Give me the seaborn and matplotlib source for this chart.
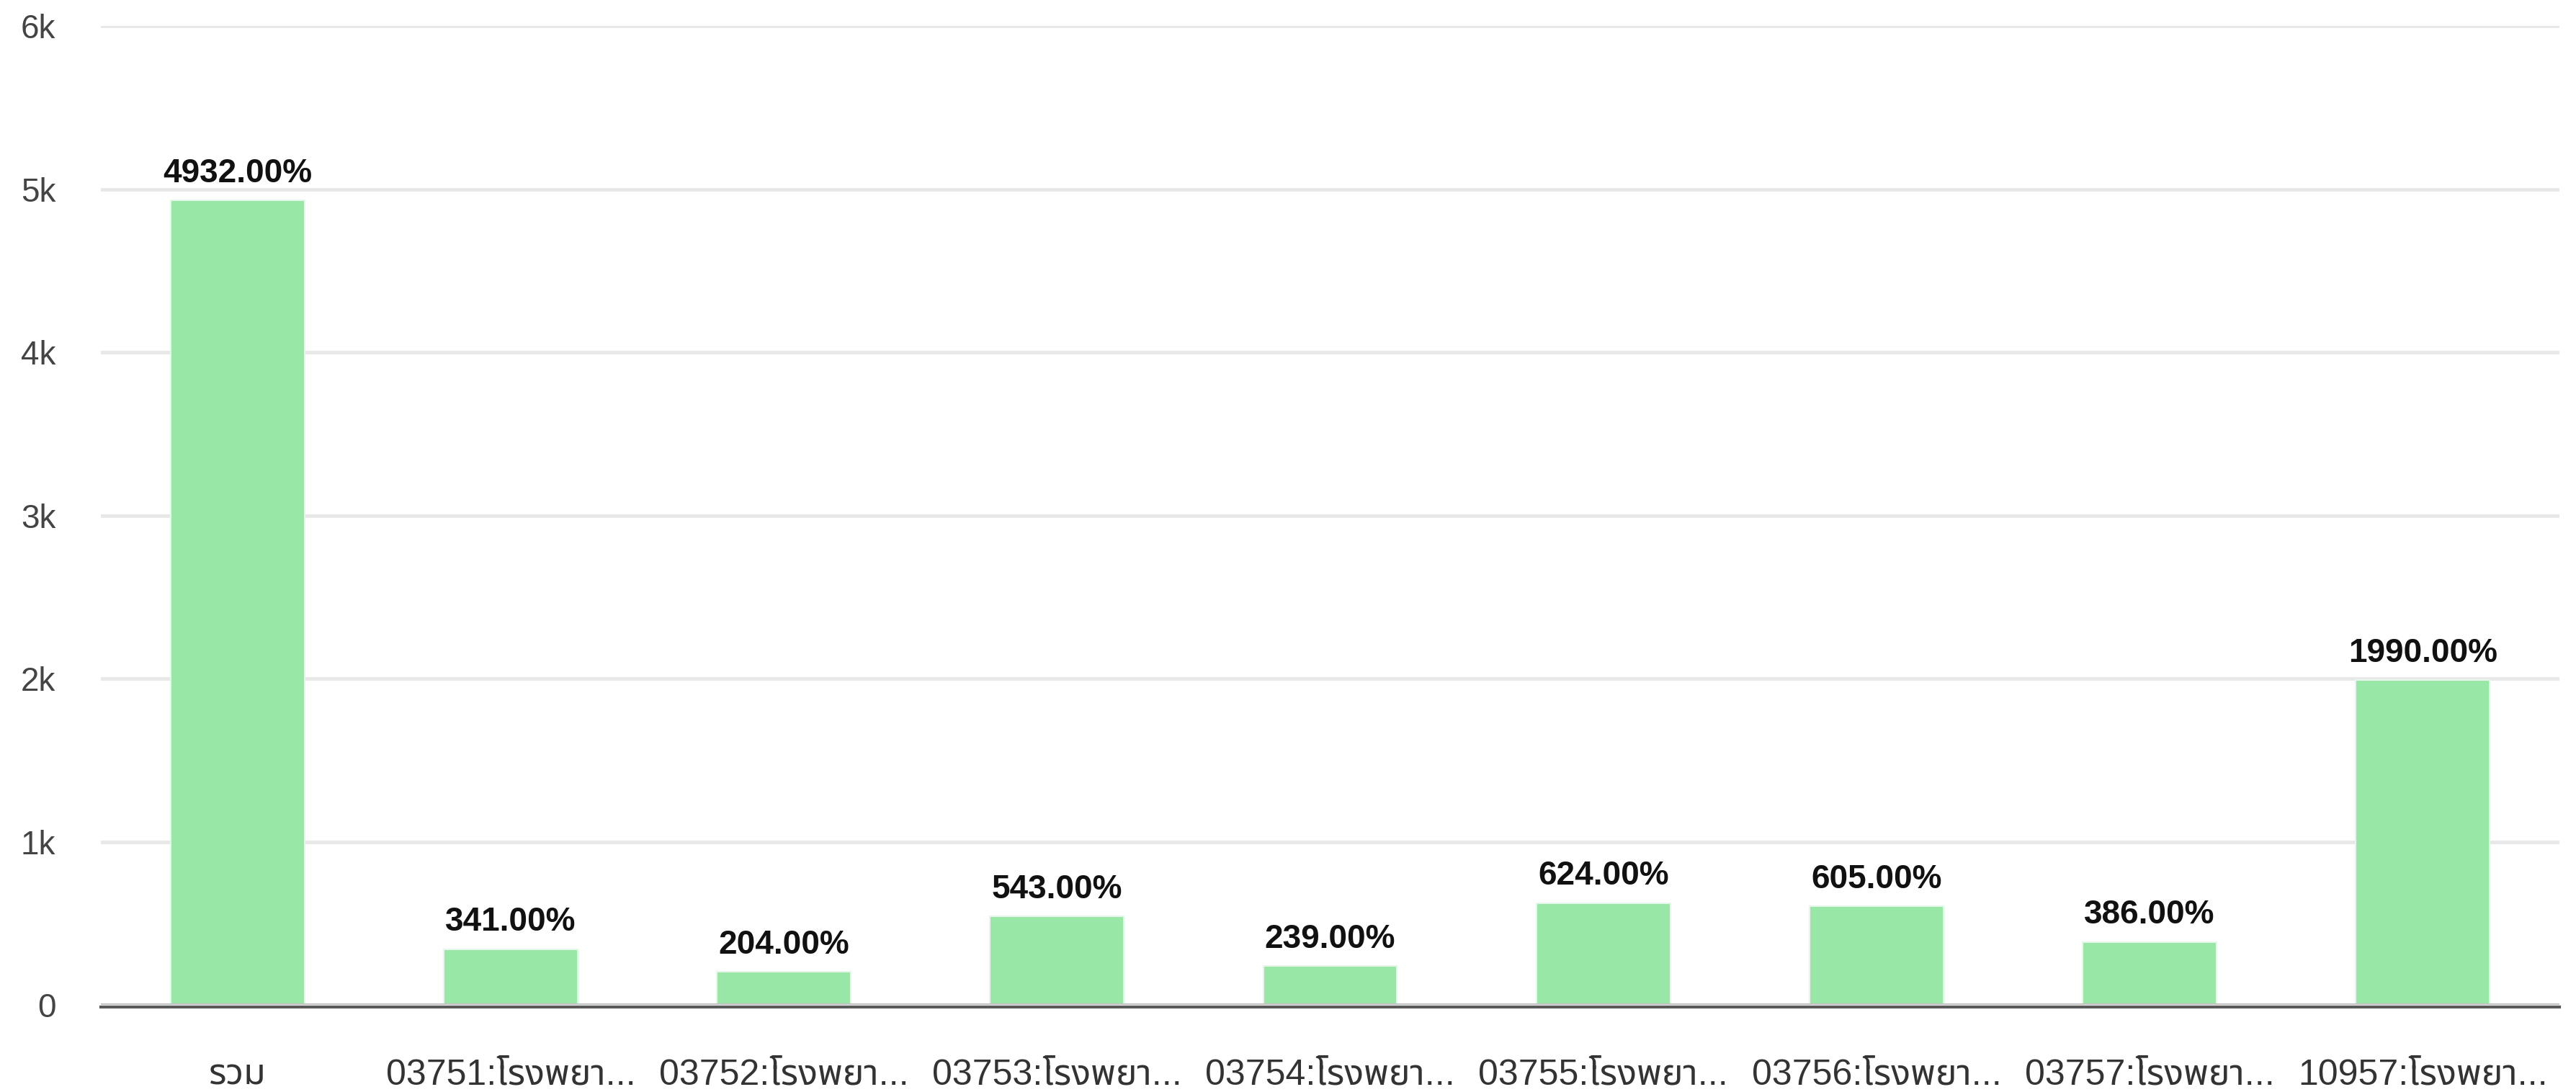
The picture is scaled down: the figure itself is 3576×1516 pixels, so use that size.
import matplotlib
matplotlib.use("Agg")
import matplotlib.pyplot as plt
from matplotlib import font_manager
import seaborn as sns
import pandas as pd

categories = ["รวม", "03751:โรงพยา...", "03752:โรงพยา...", "03753:โรงพยา...",
              "03754:โรงพยา...", "03755:โรงพยา...", "03756:โรงพยา...",
              "03757:โรงพยา...", "10957:โรงพยา..."]
values = [4932, 341, 204, 543, 239, 624, 605, 386, 1990]
value_labels = ["4932.00%", "341.00%", "204.00%", "543.00%", "239.00%",
                "624.00%", "605.00%", "386.00%", "1990.00%"]
y_ticks = [0, 1000, 2000, 3000, 4000, 5000, 6000]
y_tick_labels = ["0", "1k", "2k", "3k", "4k", "5k", "6k"]

sns.set_theme(style="white")
installed = {f.name for f in font_manager.fontManager.ttflist}
thai = next((n for n in ["Noto Sans Thai", "Noto Sans Thai Looped", "Sarabun",
                         "Anuphan", "Bai Jamjuree", "Chakra Petch"] if n in installed), None)
FAM = ["Liberation Sans"] + ([thai] if thai else []) + ["DejaVu Sans"]
plt.rcParams["font.family"] = FAM

df = pd.DataFrame({"cat": categories, "val": values})

fig = plt.figure(figsize=(35.76, 15.16), dpi=100)
ax = fig.add_axes([140 / 3576, 1 - 1395 / 1516, (3553 - 140) / 3576, (1395 - 36) / 1516])

sns.barplot(data=df, x="cat", y="val", color="#98E7A6", saturation=1,
            width=0.49, ax=ax, edgecolor="#E4F7E8", linewidth=1.5)

ax.set_xlim(-0.5, len(categories) - 0.5)
ax.set_ylim(0, 6000)
ax.set_yticks(y_ticks)
ax.set_yticklabels(y_tick_labels, fontsize=33, color="#444444")
ax.tick_params(axis="y", length=0, pad=45)
ax.tick_params(axis="x", length=0, pad=52, labelsize=36, labelcolor="#333333")
ax.set_xlabel("")
ax.set_ylabel("")

for y in y_ticks[1:]:
    ax.axhline(y, color="#E8E8E8", lw=3.5, zorder=0)
ax.axhline(0, color="#C2C2C2", lw=3, zorder=3)

for s in ["top", "right", "left"]:
    ax.spines[s].set_visible(False)
ax.spines["bottom"].set_color("#5A5A5A")
ax.spines["bottom"].set_linewidth(3)
ax.spines["bottom"].set_position(("outward", 2))
ax.spines["bottom"].set_zorder(4)

ax.bar_label(ax.containers[0], labels=value_labels, padding=11,
             fontsize=33, fontweight="bold", color="#111111")

fig.savefig("out.png", dpi=100, facecolor="white")
